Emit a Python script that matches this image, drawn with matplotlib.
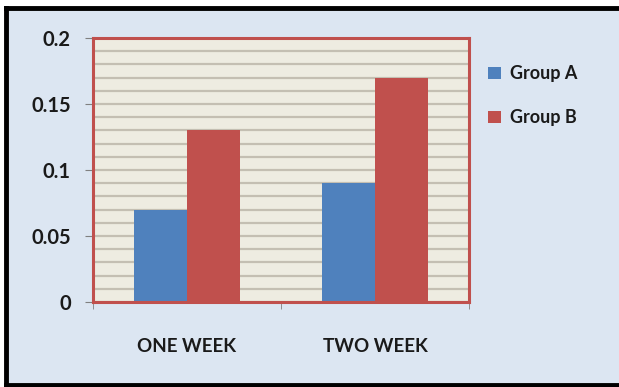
import matplotlib
matplotlib.use("Agg")
from matplotlib import pyplot as plt
from matplotlib.patches import Rectangle
from matplotlib.lines import Line2D
import numpy as np

categories = ["ONE WEEK", "TWO WEEK"]
group_a = [0.07, 0.09]
group_b = [0.13, 0.17]
series_names = ["Group A", "Group B"]
y_ticks = [0, 0.05, 0.1, 0.15, 0.2]
y_labels = ["0", "0.05", "0.1", "0.15", "0.2"]

blue = "#4f81bd"
red = "#c0504d"
bg = "#dce6f2"

plt.rcParams["font.family"] = ["Lato", "DejaVu Sans"]

fig = plt.figure(figsize=(6.19, 3.87), dpi=100)
W, H = 619, 387

# outer frame (behind the axes)
fig.patches.append(Rectangle((7 / W, 0), 1 - 7 / W, 1 - 9 / H, transform=fig.transFigure,
                             facecolor=bg, edgecolor="none", zorder=-10))
for xs, ys in [((6 / W, 1), (1 - 8 / H, 1 - 8 / H)),
               ((6 / W, 6 / W), (2 / H, 1 - 8 / H)),
               ((6 / W, 1), (2 / H, 2 / H))]:
    fig.lines.append(Line2D(xs, ys, transform=fig.transFigure, color="black", lw=3.5, zorder=-5))

ax = fig.add_axes([93 / W, 1 - 302 / H, (469 - 93) / W, (302 - 38) / H])
ax.set_facecolor("#eeece1")

x = np.arange(len(categories))
width = 0.28
ax.bar(x - width / 2, group_a, width, color=blue, label=series_names[0], zorder=3)
ax.bar(x + width / 2, group_b, width, color=red, label=series_names[1], zorder=3)

ax.set_xlim(-0.5, len(categories) - 0.5)
ax.set_ylim(0, 0.2)
ax.set_yticks(y_ticks)
ax.set_yticklabels(y_labels)
ax.set_yticks(np.arange(0, 0.2001, 0.01), minor=True)
ax.grid(axis="y", which="both", color="#c4bfb2", lw=1.6, zorder=1)
ax.set_xticks(x)
ax.set_xticklabels(categories)
ax.set_xticks([-0.5, 0.5, 1.5], minor=True)
ax.tick_params(axis="x", which="major", length=0, pad=26, labelsize=13.5)
ax.tick_params(axis="x", which="minor", length=5, color="#808080", direction="out")
ax.tick_params(axis="y", which="major", length=6, color="#808080", labelsize=14.5, pad=10)
ax.tick_params(axis="y", which="minor", length=0)
for lab in ax.get_xticklabels() + ax.get_yticklabels():
    lab.set_fontweight("bold")
    lab.set_color("#1a1a1a")
for s in ax.spines.values():
    s.set_color(red)
    s.set_linewidth(2.2)
    s.set_zorder(4)

leg = fig.legend(loc="upper left", bbox_to_anchor=(472 / W, 1 - 49 / H), frameon=False,
                 handlelength=0.7, handleheight=0.7, handletextpad=0.5,
                 labelspacing=1.5, prop={"size": 13, "weight": "bold"})
for t in leg.get_texts():
    t.set_color("#1a1a1a")

fig.savefig("out.png", dpi=100, facecolor="white")
